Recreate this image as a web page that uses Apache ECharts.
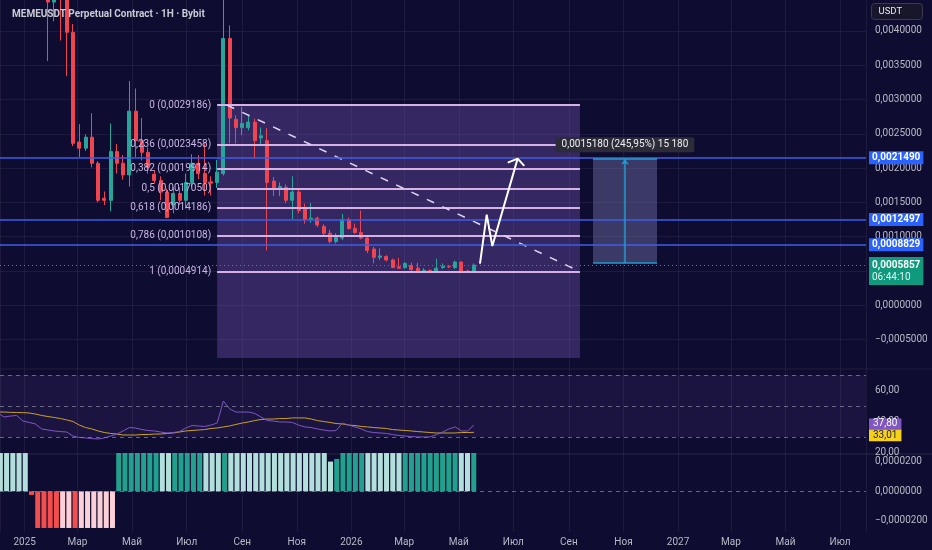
<!DOCTYPE html>
<html><head><meta charset="utf-8">
<script src="https://cdn.jsdelivr.net/npm/echarts@6/dist/echarts.min.js"></script>
<style>html,body{margin:0;padding:0;background:#0f0c31;}#c{width:932px;height:550px;}</style>
</head><body><div id="c"></div>
<script>
// ---------- DATA ----------
const monthNames = ['Янв','Фев','Мар','Апр','Май','Июн','Июл','Авг','Сен','Окт','Ноя','Дек'];
const firstWeek = '2024-12-02';           // weekly candles, one per week from here
const candleOpen = [0.0235,0.0260,0.0215,0.0160,0.0175,0.0165,0.0120,0.0095,
 0.0062,0.00442,0.0049,0.0046,0.00398,0.00238,0.00229,0.00245,0.00207,0.00156,
 0.00153,0.00224,0.00207,0.0019,0.00283,0.0024,0.00223,0.00191,0.00182,0.00165,
 0.00146,0.00163,0.00153,0.00179,0.00207,0.00192,0.0018,0.00179,0.00192,0.00389,
 0.00271,0.00259,0.00259,0.00267,0.00244,0.0024,0.00181,0.00171,0.00172,0.00153,
 0.00165,0.00141,0.00125,0.00127,0.00115,0.00105,0.00093,0.00098,0.00125,0.00112,
 0.00106,0.00098,0.00082,0.0007,0.00071,0.00066,0.00056,0.00055,0.00058,0.00054,
 0.0005,0.00051,0.00048,0.00055,0.00057,0.00055,0.00063,0.0005,0.00048];
const candleClose = [0.0260,0.0215,0.0160,0.0175,0.0165,0.0120,0.0095,0.0072,
 0.00442,0.0049,0.0046,0.00398,0.00236,0.00229,0.00245,0.00207,0.00153,0.00153,
 0.00224,0.00207,0.0019,0.00283,0.0024,0.00223,0.00201,0.00182,0.00165,0.00128,
 0.00163,0.00153,0.00179,0.00207,0.00192,0.00179,0.00178,0.00194,0.00389,0.00273,
 0.00259,0.00265,0.00267,0.0024,0.00247,0.00179,0.00171,0.00173,0.00153,0.00165,
 0.00138,0.00125,0.00127,0.00117,0.00105,0.00093,0.00099,0.00125,0.00112,0.00106,
 0.00098,0.0008,0.0007,0.00072,0.00066,0.00055,0.00054,0.00061,0.00052,0.0005,
 0.00051,0.00049,0.00054,0.00057,0.00056,0.00063,0.00048,0.00049,0.0005857];
const candleLow = [0.0220,0.0200,0.0145,0.0150,0.0150,0.0110,0.0088,0.0060,
 0.00356,0.00414,0.00386,0.00334,0.00232,0.00216,0.00225,0.00201,0.0015,0.00146,
 0.00137,0.00192,0.00183,0.00173,0.00216,0.00211,0.00192,0.00178,0.00153,0.00127,
 0.00134,0.00146,0.00141,0.00172,0.00184,0.0016,0.0016,0.00171,0.00189,0.00236,
 0.00236,0.00248,0.00255,0.00214,0.00232,0.0008,0.00159,0.00159,0.00149,0.00125,
 0.00134,0.00119,0.0012,0.00114,0.00102,0.0009,0.0009,0.00095,0.0011,0.00104,
 0.00096,0.00076,0.00061,0.00066,0.00064,0.00054,0.00053,0.00053,0.0005,0.0005,
 0.000495,0.000491,0.000491,0.00053,0.00054,0.00053,0.00048,0.000485,0.00047];
const candleHigh = [0.0310,0.0290,0.0230,0.0190,0.0200,0.0175,0.0130,0.0110,
 0.0068,0.0052,0.0053,0.0049,0.0041,0.00264,0.00249,0.0028,0.0021,0.00166,
 0.00265,0.00235,0.00219,0.00327,0.00316,0.00273,0.0023,0.00197,0.00188,0.0017,
 0.00172,0.00172,0.00192,0.0022,0.00219,0.00236,0.00188,0.00212,0.0047,0.00408,
 0.00277,0.00289,0.00276,0.00272,0.00259,0.00258,0.00187,0.00179,0.00176,0.00188,
 0.0017,0.00148,0.00149,0.00129,0.00118,0.0011,0.00105,0.00133,0.00128,0.00119,
 0.00138,0.00102,0.00085,0.00083,0.00073,0.00068,0.00069,0.00063,0.00062,0.00062,
 0.00054,0.00052,0.00068,0.00061,0.00058,0.00065,0.00064,0.00052,0.00061];
const rsiValues = [45.5,42.9,43.5,43.9,40.3,39.4,38.4,35.2,
 34.5,33.9,33.5,33.2,30.6,29.7,29.4,29.0,28.7,29.4,
 30.6,31.9,33.9,36.1,35.8,34.8,34.2,33.9,33.2,32.6,
 32.9,33.5,35.8,37.4,37.1,36.8,37.7,39.0,53.2,48.1,
 46.1,46.1,46.1,45.2,42.9,40.6,40.3,39.7,39.7,39.4,
 37.7,36.5,36.1,35.2,34.5,33.9,34.2,39.0,37.7,36.5,
 35.2,33.5,32.9,32.6,32.3,31.6,31.0,30.6,30.3,30.0,
 30.0,30.0,31.6,33.2,35.2,36.5,33.9,33.9,37.8];
const rsiMA = [46.1,46.1,45.9,45.8,45.7,45.5,44.8,43.9,
 43.2,42.6,41.9,41.0,40.0,37.7,36.1,35.2,33.9,32.9,
 32.3,31.9,31.3,31.3,31.3,31.6,31.6,31.9,31.9,32.3,
 32.6,33.2,33.9,34.2,34.5,34.8,35.5,35.8,36.5,37.1,
 38.1,39.0,39.7,40.6,41.3,41.6,41.6,41.9,41.9,42.3,
 42.3,42.3,41.6,40.6,40.0,39.4,38.7,38.4,37.7,37.4,
 36.8,36.5,36.1,35.8,35.5,34.8,34.5,34.2,33.9,33.5,
 33.2,32.9,32.6,32.6,32.6,32.6,32.9,32.9,33.01];
const histValues = [0.000026,0.000026,0.000026,0.000026,0.000026,-0.0000025,
 -0.000025,-0.000025,-0.000025,-0.000025,-0.000025,-0.000025,-0.000025,
 -0.000025,-0.000025,-0.000025,-0.000025,-0.000025,-0.000025,
 0.000026,0.000026,0.000026,0.000026,0.000026,0.000026,0.000026,0.000026,0.000026,0.000026,
 0.000026,0.000026,0.000026,0.000026,0.000026,0.000026,0.000026,0.000026,0.000026,0.000026,
 0.000026,0.000026,0.000026,0.000026,0.000026,0.000026,0.000026,0.000026,0.000026,0.000026,
 0.000026,0.000026,0.000026,0.000026,0.0000202,0.000022,
 0.000026,0.000026,0.000026,0.000026,0.000026,0.000026,0.000026,0.000026,0.000026,0.000026,
 0.000026,0.000026,0.000026,0.000026,0.000026,0.000026,0.000026,0.000026,0.000026,0.000026,
 0.000026,0.000026];
// pu = positive rising, pf = positive falling, nf = negative falling, nr = negative rising
const histTrend = ['pf','pf','pf','pf','pf','nf',
 'nf','nf','nf','nf','nr','nr','nf','nr','nr','nr','nr','nr','nr',
 'pu','pu','pu','pu','pu','pu','pu','pf','pf','pu','pu','pu','pu','pu','pf','pf','pf','pu',
 'pf','pf','pf','pf','pf','pf','pf','pf','pf','pf','pf','pf','pf','pf','pf','pf','pf',
 'pu','pu','pu','pu','pu','pf','pf','pf','pf','pf','pf',
 'pu','pu','pu','pu','pu','pu','pu','pu','pu','pf','pf','pu'];
const fibRatios = [0, 0.236, 0.382, 0.5, 0.618, 0.786, 1];
const fibPrices = [0.0029186, 0.0023458, 0.0019914, 0.0017050, 0.0014186, 0.0010108, 0.0004914];
const fibStart = '2025-08-04', fibEnd = '2026-09-13 10:00', fibBoxBottom = -0.00077;
const trendStart = '2025-08-15';
const levelPrices = [0.0021490, 0.0012497, 0.0008829];
const lastPrice = 0.0005857, lastTimer = '06:44:10';
const measureStart = '2026-09-28', measureEnd = '2026-12-08 12:00', measureMid = '2026-11-02 17:00';
const measureLow = 0.000617, measureHigh = 0.002135, measureLabelPrice = 0.00234;
const measureText = '0,0015180 (245,95%) 15 180';
const arrowTimes = ['2026-05-24 17:00','2026-06-01 05:00','2026-06-07 12:00','2026-07-05 19:00'];
const arrowPrices = [0.000608, 0.001322, 0.000864, 0.002138];
const headTimes = ['2026-06-24 17:00','2026-07-05 19:00','2026-07-13 05:00'];
const headPrices = [0.00208, 0.002138, 0.002031];
const rsiLevels = [70, 50, 30];
const rsiLast = 37.80, maLast = 33.01;
const xMin = '2024-12-04 10:00', xMax = '2027-07-30';

// ---------- BUILD ----------
const ts = s => echarts.time.parse(s).getTime();
const DAY = 864e5;
const weekDates = candleOpen.map((_, i) => ts(firstWeek) + i * 7 * DAY);
const fmtPrice = v => (v < 0 ? '\u2212' : '') + Math.abs(v).toFixed(7).replace('.', ',');
const fmt2 = v => v.toFixed(2).replace('.', ',');
const fmtRatio = r => String(r).replace('.', ',');

const C = {
  up: '#26a69a', down: '#f0444f', text: '#b8bac4', grid: 'rgba(255,255,255,0.06)',
  fib: '#d6b2e4', fibText: '#c7b5e4', blue: '#3f5ee8', blueLbl: '#2962ff',
  rsi: '#7e57c2', ma: '#c9a227', cyan: '#1e9bd0'
};
const histColors = { pu: '#22a08e', pf: '#b2dfdb', nf: '#f44d4d', nr: '#fcd0d7' };
const FONT = 'Roboto, "Noto Sans", sans-serif';

const X0 = ts(xMin), X1 = ts(xMax);
const hiddenX = gi => ({ type: 'time', gridIndex: gi, min: X0, max: X1, show: false });
const rightY = (gi, extra) => Object.assign({
  type: 'value', gridIndex: gi, position: 'right',
  axisLine: { show: false }, axisTick: { show: false },
  splitLine: { show: false }
}, extra);
const axLbl = (fmt, showMin) => ({ color: C.text, fontSize: 10, margin: 9, showMinLabel: showMin, showMaxLabel: false, fontFamily: FONT, formatter: fmt });
const hLine = (p, style, label) => [
  { coord: [X0, p], lineStyle: style, label: label },
  { coord: [X1, p] }
];

const option = {
  animation: false,
  backgroundColor: '#0f0c31',
  textStyle: { fontFamily: FONT },
  title: [
    { text: 'MEMEUSDT Perpetual Contract \u00b7 1H \u00b7 Bybit', left: 7, top: 4,
      textStyle: { color: '#c9cbd3', fontSize: 10, fontWeight: 'bold', fontFamily: FONT } }
  ],
  grid: [
    { left: 0, right: 66, top: 0, height: 532 },
    { left: 0, right: 66, top: 0, height: 373.87 },
    { left: 0, right: 66, top: 359.5, height: 93 },
    { left: 0, right: 66, top: 432.5, height: 122 }
  ],
  xAxis: [
    { type: 'time', gridIndex: 0, min: X0, max: X1, splitNumber: 14,
      minInterval: 65 * DAY, maxInterval: 75 * DAY,
      axisLine: { show: false }, axisTick: { show: false },
      axisLabel: { color: C.text, fontSize: 10, margin: 5, fontFamily: FONT,
        showMinLabel: false, showMaxLabel: false,
        formatter: v => { const d = new Date(v); return d.getMonth() === 0 ? String(d.getFullYear()) : monthNames[d.getMonth()]; } },
      splitLine: { show: true, lineStyle: { color: C.grid, width: 1 } } },
    hiddenX(1), hiddenX(2), hiddenX(3)
  ],
  yAxis: [
    { type: 'value', gridIndex: 0, show: false, min: 0, max: 1 },
    rightY(1, { min: -0.001, max: 0.00445, interval: 0.0005, axisLabel: axLbl(fmtPrice, false),
      splitLine: { show: true, showMinLine: false, showMaxLine: false, lineStyle: { color: C.grid } } }),
    rightY(2, { min: 20, max: 80, interval: 20, axisLabel: axLbl(fmt2, true) }),
    rightY(3, { min: -0.00004, max: 0.00004, interval: 0.00002, axisLabel: axLbl(fmtPrice, false) })
  ],
  graphic: [
    { type: 'rect', shape: { x: 0, y: 368.5, width: 932, height: 1 }, style: { fill: 'rgba(255,255,255,0.07)' }, z: 100 },
    { type: 'rect', shape: { x: 0, y: 453.5, width: 932, height: 1 }, style: { fill: 'rgba(255,255,255,0.1)' }, z: 100 },
    { type: 'group', left: 871, top: 3, z: 100, children: [
      { type: 'rect', shape: { x: 0, y: 0, width: 51, height: 16, r: 3 },
        style: { fill: '#17162a', stroke: '#3a3a4c', lineWidth: 1 } },
      { type: 'text', x: 7, y: 8, style: { text: 'USDT', fill: '#e6e6ea', font: '9.5px ' + FONT, verticalAlign: 'middle' } }
    ] }
  ],
  series: [
    { type: 'line', xAxisIndex: 0, yAxisIndex: 0, data: [] },
    // Fibonacci retracement
    { type: 'line', xAxisIndex: 1, yAxisIndex: 1, data: [], z: 1,
      markArea: { silent: true, itemStyle: { color: 'rgba(130,95,200,0.33)' },
        data: [[{ coord: [ts(fibStart), fibPrices[0]] }, { coord: [ts(fibEnd), fibBoxBottom] }]] },
      markLine: { silent: true, symbol: ['none', 'none'],
        data: fibPrices.map((p, i) => [
          { coord: [ts(fibStart), p],
            lineStyle: { color: C.fib, width: 2, type: 'solid' },
            label: { show: true, position: 'start', distance: 6, color: C.fibText, fontSize: 10, fontFamily: FONT,
              formatter: fmtRatio(fibRatios[i]) + ' (' + fmtPrice(p) + ')' } },
          { coord: [ts(fibEnd), p] }
        ]).concat([[
          { coord: [ts(trendStart), fibPrices[0]], lineStyle: { color: '#e2d3f2', width: 1.5, type: [8, 9] }, label: { show: false } },
          { coord: [ts(fibEnd), fibPrices[fibPrices.length - 1]] }
        ]]) } },
    // Candles
    { type: 'candlestick', xAxisIndex: 1, yAxisIndex: 1, z: 3, barWidth: 3.5, clip: true,
      itemStyle: { color: C.up, color0: C.down, borderColor: C.up, borderColor0: C.down, borderWidth: 1 },
      data: weekDates.map((t, i) => [t, candleOpen[i], candleClose[i], candleLow[i], candleHigh[i]]) },
    // Horizontal levels + last price
    { type: 'line', xAxisIndex: 1, yAxisIndex: 1, data: [], z: 4,
      markLine: { silent: true, symbol: ['none', 'none'],
        data: levelPrices.map(p => hLine(p, { color: C.blue, width: 1.5, type: 'solid' },
          { show: true, position: 'end', distance: 3, backgroundColor: C.blueLbl, color: '#fff',
            fontWeight: 'bold', fontSize: 10, padding: [2, 3, 1, 3], fontFamily: FONT, formatter: fmtPrice(p) }))
          .concat([hLine(lastPrice, { color: '#3d8c86', width: 1, type: [1, 3] },
          { show: true, position: 'end', distance: 3, backgroundColor: '#0f9a7e', padding: [2, 3, 2, 3], offset: [0, 6],
            formatter: '{a|' + fmtPrice(lastPrice) + '}\n{b|' + lastTimer + '}',
            rich: { a: { color: '#fff', fontWeight: 'bold', fontSize: 10, lineHeight: 12, fontFamily: FONT },
                    b: { color: '#e3f4f0', fontSize: 10, lineHeight: 12, fontFamily: FONT } } })]) } },
    // Measurement
    { type: 'line', xAxisIndex: 1, yAxisIndex: 1, data: [], z: 2,
      markArea: { silent: true, itemStyle: { color: 'rgba(150,150,210,0.33)' },
        data: [[{ coord: [ts(measureStart), measureHigh] }, { coord: [ts(measureEnd), measureLow] }]] },
      markLine: { silent: true, symbol: ['none', 'none'], label: { show: false },
        lineStyle: { color: C.cyan, width: 1.5, type: 'solid' },
        data: [
          [{ coord: [ts(measureStart), measureLow] }, { coord: [ts(measureEnd), measureLow] }],
          [{ coord: [ts(measureStart), measureHigh] }, { coord: [ts(measureEnd), measureHigh] }],
          [{ coord: [ts(measureMid), measureLow] }, { coord: [ts(measureMid), measureHigh], symbol: 'arrow', symbolSize: [6, 6] }]
        ] },
      markPoint: { silent: true, symbol: 'circle', symbolSize: 1, itemStyle: { color: 'transparent' },
        data: [{ coord: [ts(measureMid), measureLabelPrice],
          label: { show: true, position: 'inside', formatter: measureText, backgroundColor: '#2b2c38',
            color: '#f0f0f4', fontSize: 10, padding: [3, 6, 2, 6], borderRadius: 2, fontFamily: FONT } }] } },
    // White arrow
    { type: 'line', xAxisIndex: 1, yAxisIndex: 1, z: 6, symbol: 'none', silent: true,
      lineStyle: { color: '#ffffff', width: 2 },
      data: arrowTimes.map((t, i) => [ts(t), arrowPrices[i]]) },
    { type: 'line', xAxisIndex: 1, yAxisIndex: 1, z: 6, symbol: 'none', silent: true,
      lineStyle: { color: '#ffffff', width: 2 },
      data: headTimes.map((t, i) => [ts(t), headPrices[i]]) },
    // RSI
    { type: 'line', xAxisIndex: 2, yAxisIndex: 2, z: 3, symbol: 'none', silent: true,
      lineStyle: { color: C.rsi, width: 1 },
      data: weekDates.map((t, i) => [t, rsiValues[i]]),
      markArea: { silent: true, itemStyle: { color: 'rgba(126,87,194,0.11)' },
        data: [[{ yAxis: rsiLevels[2] }, { yAxis: rsiLevels[0] }]] },
      markLine: { silent: true, symbol: ['none', 'none'],
        data: rsiLevels.map(v => ({ yAxis: v, label: { show: false },
          lineStyle: { color: 'rgba(130,133,150,0.75)', width: 1, type: [4, 4] } })) } },
    { type: 'line', xAxisIndex: 2, yAxisIndex: 2, z: 2, symbol: 'none', silent: true,
      lineStyle: { color: C.ma, width: 1 },
      data: weekDates.map((t, i) => [t, rsiMA[i]]),
      markLine: { silent: true, symbol: ['none', 'none'], z: 10,
        data: [
          hLine(maLast, { color: 'transparent', width: 0 },
            { show: true, position: 'end', distance: 3, backgroundColor: '#f5d117', color: '#1b1a3c', offset: [0, 3],
              fontSize: 10, lineHeight: 11, padding: [1, 4, 0, 4], fontFamily: FONT, formatter: fmt2(maLast) }),
          hLine(rsiLast, { color: 'transparent', width: 0 },
            { show: true, position: 'end', distance: 3, backgroundColor: '#7e57c2', color: '#fff', offset: [0, -1],
              fontSize: 10, lineHeight: 10, padding: [1, 4, 0, 4], fontFamily: FONT, formatter: fmt2(rsiLast) })
        ] } },
    // Histogram
    { type: 'bar', xAxisIndex: 3, yAxisIndex: 3, barWidth: 5, silent: true,
      data: weekDates.map((t, i) => ({ value: [t, histValues[i]], itemStyle: { color: histColors[histTrend[i]] } })),
      markLine: { silent: true, symbol: ['none', 'none'], label: { show: false },
        lineStyle: { color: 'rgba(130,133,150,0.75)', width: 1, type: [4, 4] },
        data: [{ yAxis: 0 }] } }
  ]
};
echarts.init(document.getElementById('c')).setOption(option);
</script></body></html>
